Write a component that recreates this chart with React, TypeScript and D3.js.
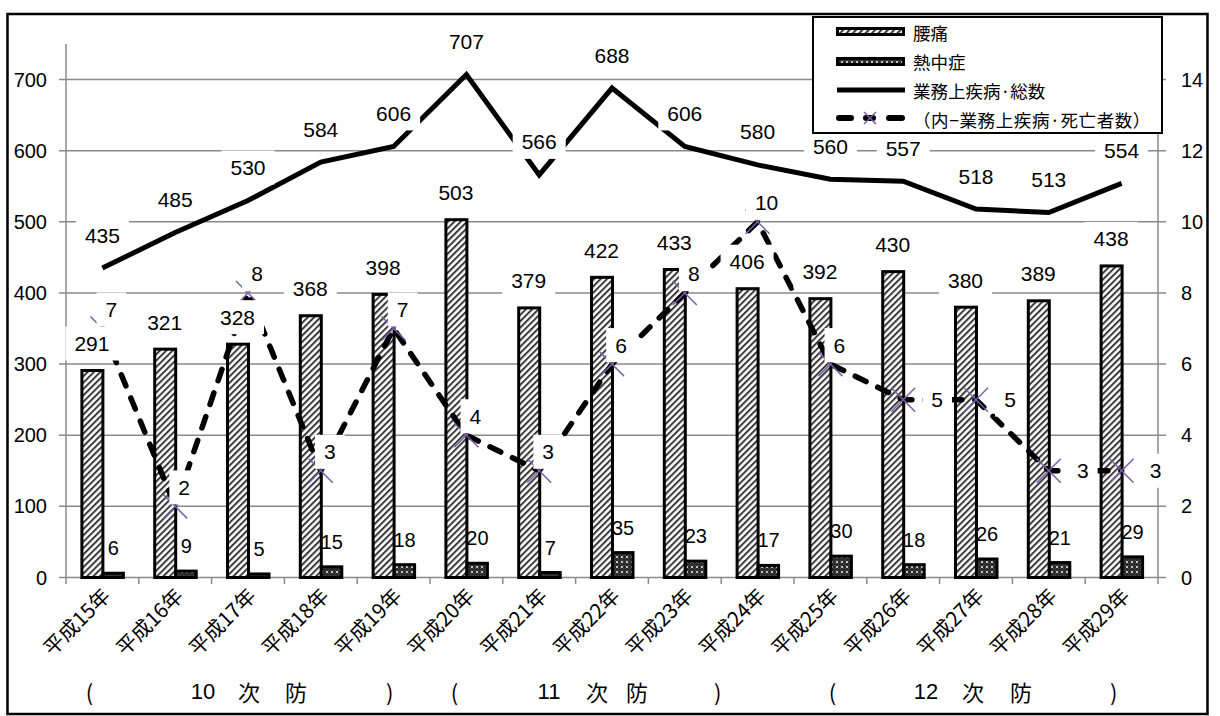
import React from "react";
import * as d3 from "d3";

const years = ["平成15年","平成16年","平成17年","平成18年","平成19年","平成20年","平成21年","平成22年","平成23年","平成24年","平成25年","平成26年","平成27年","平成28年","平成29年"];
const backPain = [291,321,328,368,398,503,379,422,433,406,392,430,380,389,438];
const heatStroke = [6,9,5,15,18,20,7,35,23,17,30,18,26,21,29];
const totalDisease = [435,485,530,584,606,707,566,688,606,580,560,557,518,513,554];
const deaths = [7,2,8,3,7,4,3,6,8,10,6,5,5,3,3];
const leftTicks = [0,100,200,300,400,500,600,700];
const rightTicks = [0,2,4,6,8,10,12,14];
const seriesNames = ["腰痛","熱中症","業務上疾病·総数","（内−業務上疾病·死亡者数）"];
const periods = [
  { num: "10", start: 0, end: 4 },
  { num: "11", start: 5, end: 9 },
  { num: "12", start: 10, end: 14 },
];
// label placement style for the death series
const deathLabelPlace = ["above","above","above","above","above","above","above","above","above","above","above","right","right","right","right"];

const NUM_FONT = "'Liberation Sans', Arial, sans-serif";
const JP_FONT = "'Noto Sans CJK JP', 'Noto Sans', sans-serif";
const GRID = "#8a8a8a";
const PURPLE = "#7a5ea6";

export default function App() {
  const W = 1220, H = 716;
  const x = d3.scaleBand<string>().domain(years).range([66, 1158]).padding(0);
  const cx = (i: number) => (x(years[i]) as number) + x.bandwidth() / 2;
  const yL = d3.scaleLinear().domain([0, 750]).range([577.5, 44]);
  const yR = d3.scaleLinear().domain([0, 15]).range([577.5, 44]);

  const totalLine = d3.line<number>().x((_, i) => cx(i)).y((d) => yL(d));
  const deathLine = d3.line<number>().x((_, i) => cx(i)).y((d) => yR(d));

  const labelBox = (key: string, lx: number, ly: number, txt: string, size = 21) => {
    const tw = txt.length * 0.556 * size;
    return (
      <g key={key}>
        <rect x={lx - tw / 2 - 9} y={ly - 17} width={tw + 18} height={34} fill="#fff" />
        <text x={lx} y={ly} textAnchor="middle" dominantBaseline="central" fontFamily={NUM_FONT} fontSize={size} fill="#000">{txt}</text>
      </g>
    );
  };

  const marker = (key: string, mx: number, my: number, r = 12) => (
    <g key={key} stroke={PURPLE} strokeWidth={1.5}>
      <line x1={mx - r} y1={my - r} x2={mx + r} y2={my + r} />
      <line x1={mx - r} y1={my + r} x2={mx + r} y2={my - r} />
    </g>
  );

  return (
    <div style={{ position: "absolute", left: 0, top: 0, width: W, height: H, background: "#fff" }}>
      <svg width={W} height={H} viewBox={`0 0 ${W} ${H}`} style={{ display: "block" }}>
        <defs>
          <pattern id="hatch" patternUnits="userSpaceOnUse" width={4.5} height={4.5} patternTransform="rotate(45)">
            <rect width={4.5} height={4.5} fill="#ffffff" />
            <rect x={0} y={0} width={2} height={4.5} fill="#3a3a3a" />
          </pattern>
          <pattern id="cross" patternUnits="userSpaceOnUse" width={5} height={5}>
            <rect width={5} height={5} fill="#2a2a2a" />
            <path d="M0.8,0.8 L3.2,3.2 M3.2,0.8 L0.8,3.2" stroke="#c4c4c4" strokeWidth={1} />
          </pattern>
        </defs>

        <rect x={0} y={0} width={W} height={H} fill="#fff" />
        <rect x={7.5} y={14} width={1200} height={700} fill="#fff" stroke="#000" strokeWidth={2.5} />

        {/* gridlines */}
        {leftTicks.map((t) => (
          <line key={"g" + t} x1={59} x2={1166} y1={yL(t)} y2={yL(t)} stroke={GRID} strokeWidth={1.5} />
        ))}
        {/* axes */}
        <line x1={66} x2={66} y1={44} y2={577.5} stroke={GRID} strokeWidth={1.5} />
        <line x1={1158} x2={1158} y1={44} y2={577.5} stroke={GRID} strokeWidth={1.5} />
        {years.map((yv, i) => (
          <line key={"xt" + i} x1={x(yv) as number} x2={x(yv) as number} y1={577.5} y2={584} stroke={GRID} strokeWidth={1.5} />
        ))}
        <line x1={1158} x2={1158} y1={577.5} y2={584} stroke={GRID} strokeWidth={1.5} />

        {/* left axis labels */}
        {leftTicks.map((t) => (
          <text key={"lt" + t} x={47} y={yL(t)} textAnchor="end" dominantBaseline="central" fontFamily={NUM_FONT} fontSize={20}>{t}</text>
        ))}
        {/* right axis labels */}
        {rightTicks.map((t) => (
          <text key={"rt" + t} x={1181} y={yR(t)} textAnchor="start" dominantBaseline="central" fontFamily={NUM_FONT} fontSize={20}>{t}</text>
        ))}

        {/* bars */}
        {backPain.map((v, i) => (
          <rect key={"bp" + i} x={cx(i) - 20.5} y={yL(v)} width={21} height={yL(0) - yL(v)} fill="url(#hatch)" stroke="#000" strokeWidth={3} />
        ))}
        {heatStroke.map((v, i) => (
          <rect key={"hs" + i} x={cx(i) + 0.5} y={yL(v)} width={20.5} height={yL(0) - yL(v)} fill="url(#cross)" stroke="#000" strokeWidth={3} />
        ))}

        {/* total line */}
        <path d={totalLine(totalDisease) as string} fill="none" stroke="#000" strokeWidth={5} strokeLinejoin="miter" />
        {/* death line */}
        <path d={deathLine(deaths) as string} fill="none" stroke="#000" strokeWidth={5.5} strokeDasharray="12 13" strokeLinecap="round" />
        {deaths.map((v, i) => marker("m" + i, cx(i), yR(v)))}

        {/* heat labels (no box) */}
        {heatStroke.map((v, i) => (
          <text key={"hl" + i} x={cx(i) + 11} y={yL(v) - 25} textAnchor="middle" dominantBaseline="central" fontFamily={NUM_FONT} fontSize={20}>{v}</text>
        ))}
        {/* back pain labels */}
        {backPain.map((v, i) => labelBox("bl" + i, cx(i) - 10.5, yL(v) - 27, String(v)))}
        {/* total labels */}
        {totalDisease.map((v, i) => labelBox("tl" + i, cx(i), yL(v) - 33, String(v)))}
        {/* death labels */}
        {deaths.map((v, i) =>
          deathLabelPlace[i] === "right"
            ? labelBox("dl" + i, cx(i) + 34, yR(v), String(v))
            : labelBox("dl" + i, cx(i) + 9, yR(v) - 19, String(v))
        )}

        {/* x tick labels */}
        {years.map((yv, i) => (
          <text key={"xl" + i} transform={`translate(${cx(i) + 3},${591}) rotate(-45)`} textAnchor="end" dominantBaseline="central" fontFamily={JP_FONT} fontSize={20.5}>{yv}</text>
        ))}

        {/* period annotations */}
        {periods.map((p, k) => {
          const a = cx(p.start), b = cx(p.end), m = (a + b) / 2;
          const yy = 691;
          const offs = k === 0 ? [-13, -45, 1, 48, -4] : k === 1 ? [-12, -63, -15, 25, -40] : [2, -50, -3, 45, -8];
          return (
            <g key={"p" + k} fontFamily={JP_FONT} fontSize={22}>
              <text x={a + offs[0]} y={yy} textAnchor="middle" dominantBaseline="central">(</text>
              <text x={m + offs[1]} y={yy} textAnchor="middle" dominantBaseline="central" fontFamily={NUM_FONT}>{p.num}</text>
              <text x={m + offs[2]} y={yy} textAnchor="middle" dominantBaseline="central">次</text>
              <text x={m + offs[3]} y={yy} textAnchor="middle" dominantBaseline="central">防</text>
              <text x={b + offs[4]} y={yy} textAnchor="middle" dominantBaseline="central">)</text>
            </g>
          );
        })}

        {/* legend */}
        <g>
          <rect x={813} y={17} width={349} height={116} fill="#fff" stroke="#000" strokeWidth={2} />
          <rect x={837.5} y={28.5} width={66} height={6} fill="url(#hatch)" stroke="#000" strokeWidth={3} />
          <rect x={837.5} y={58.5} width={66} height={6} fill="url(#cross)" stroke="#000" strokeWidth={3} />
          <line x1={837} x2={905} y1={90} y2={90} stroke="#000" strokeWidth={5} />
          <line x1={839} x2={851} y1={118} y2={118} stroke="#000" strokeWidth={6} strokeLinecap="round" />
          <line x1={866} x2={873} y1={118} y2={118} stroke="#000" strokeWidth={6} strokeLinecap="round" />
          <line x1={889} x2={902} y1={118} y2={118} stroke="#000" strokeWidth={6} strokeLinecap="round" />
          {marker("lm", 870, 118, 6)}
          {seriesNames.map((s, i) => (
            <text key={"ln" + i} x={913} y={32 + i * 29} dominantBaseline="central" fontFamily={JP_FONT} fontSize={17.5} letterSpacing={i === 3 ? 0.6 : 0}>{s}</text>
          ))}
        </g>
      </svg>
    </div>
  );
}
